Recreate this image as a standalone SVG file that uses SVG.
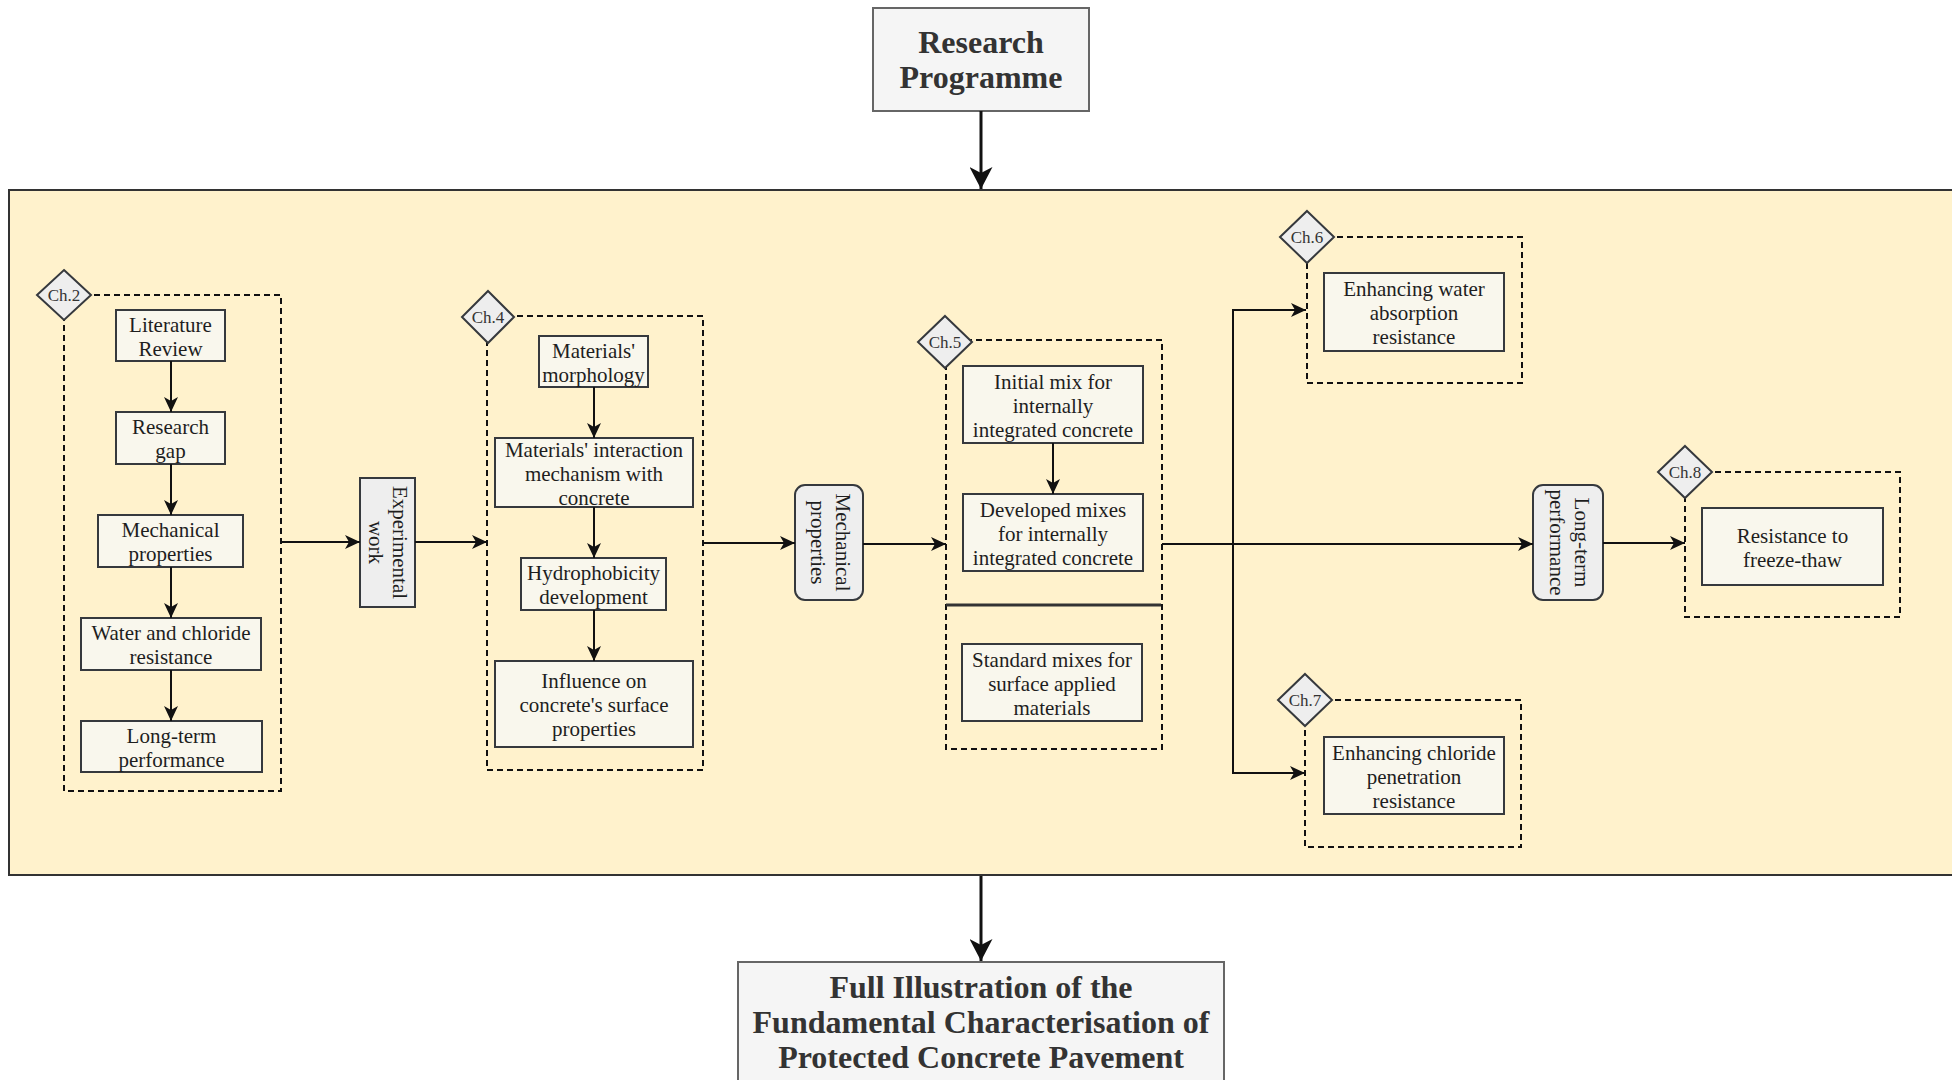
<svg xmlns="http://www.w3.org/2000/svg" width="1952" height="1080" viewBox="0 0 1952 1080">
<defs>
<style>
text{font-family:"Liberation Serif","Times New Roman",serif;fill:#1e1e1e;text-anchor:middle}
.t{font-size:21px}
.big{font-size:32px;font-weight:bold;fill:#333}
.ch{font-size:17px;fill:#333}
.box{fill:#f9f7ed;stroke:#36393d;stroke-width:2}
.rot{fill:#eeeeee;stroke:#36393d;stroke-width:2}
.dia{fill:#eeeeee;stroke:#36393d;stroke-width:2}
.dash{fill:none;stroke:#111;stroke-width:2;stroke-dasharray:6 4}
.main{fill:#f5f5f5;stroke:#666;stroke-width:2}
.c{fill:none;stroke:#111;stroke-width:2}
.ca{fill:none;stroke:#111;stroke-width:2;marker-end:url(#ah)}
.cb{fill:none;stroke:#111;stroke-width:3;marker-end:url(#ahb)}
</style>
<marker id="ah" markerUnits="userSpaceOnUse" markerWidth="16" markerHeight="14" refX="15" refY="7" orient="auto">
<path d="M0,0 L15,7 L0,14 L4,7 Z" fill="#111"/>
</marker>
<marker id="ahb" markerUnits="userSpaceOnUse" markerWidth="23" markerHeight="23" refX="22" refY="11.5" orient="auto">
<path d="M0,0 L22,11.5 L0,23 L6,11.5 Z" fill="#111"/>
</marker>
</defs>
<rect width="1952" height="1080" fill="#ffffff"/>

<g id="research-programme">
<rect class="main" x="873" y="8" width="216" height="103"/>
<text class="big" x="981" y="53">Research</text>
<text class="big" x="981" y="88">Programme</text>
</g>

<g id="programme-container">
<rect x="9" y="190" width="1960" height="685" fill="#fff2cc" stroke="#333" stroke-width="2"/>
</g>

<g id="outcome">
<rect class="main" x="738" y="962" width="486" height="150"/>
<text class="big" x="981" y="998">Full Illustration of the</text>
<text class="big" x="981" y="1033">Fundamental Characterisation of</text>
<text class="big" x="981" y="1068">Protected Concrete Pavement</text>
</g>

<g id="ch2">
<rect class="dash" x="64" y="295" width="217" height="496"/>
<polygon class="dia" points="64,270 91,295 64,320 37,295"/>
<text class="ch" x="64" y="301">Ch.2</text>
</g>
<g id="literature-review">
<rect class="box" x="116" y="310" width="109" height="51"/>
<text class="t" x="170.5" y="332">Literature</text>
<text class="t" x="170.5" y="356">Review</text>
</g>
<g id="research-gap">
<rect class="box" x="116" y="412" width="109" height="52"/>
<text class="t" x="170.5" y="434">Research</text>
<text class="t" x="170.5" y="458">gap</text>
</g>
<g id="mechanical-properties-lit">
<rect class="box" x="98" y="515" width="145" height="52"/>
<text class="t" x="170.5" y="537">Mechanical</text>
<text class="t" x="170.5" y="561">properties</text>
</g>
<g id="water-chloride">
<rect class="box" x="81" y="618" width="180" height="52"/>
<text class="t" x="171" y="640">Water and chloride</text>
<text class="t" x="171" y="664">resistance</text>
</g>
<g id="long-term-lit">
<rect class="box" x="81" y="721" width="181" height="51"/>
<text class="t" x="171.5" y="743">Long-term</text>
<text class="t" x="171.5" y="767">performance</text>
</g>

<g id="experimental-work">
<rect class="rot" x="360" y="478" width="55" height="129"/>
<g transform="rotate(90 387.5 542.5)">
<text class="t" x="387.5" y="537">Experimental</text>
<text class="t" x="387.5" y="561">work</text>
</g>
</g>

<g id="ch4">
<rect class="dash" x="487" y="316" width="216" height="454"/>
<polygon class="dia" points="488,291 514,317 488,343 462,317"/>
<text class="ch" x="488" y="323">Ch.4</text>
</g>
<g id="materials-morphology">
<rect class="box" x="539" y="336" width="109" height="51"/>
<text class="t" x="593.5" y="358">Materials'</text>
<text class="t" x="593.5" y="382">morphology</text>
</g>
<g id="interaction-mechanism">
<rect class="box" x="495" y="438" width="198" height="69"/>
<text class="t" x="594" y="457">Materials' interaction</text>
<text class="t" x="594" y="481">mechanism with</text>
<text class="t" x="594" y="505">concrete</text>
</g>
<g id="hydrophobicity">
<rect class="box" x="521" y="558" width="145" height="52"/>
<text class="t" x="593.5" y="580">Hydrophobicity</text>
<text class="t" x="593.5" y="604">development</text>
</g>
<g id="surface-influence">
<rect class="box" x="495" y="661" width="198" height="86"/>
<text class="t" x="594" y="688">Influence on</text>
<text class="t" x="594" y="712">concrete's surface</text>
<text class="t" x="594" y="736">properties</text>
</g>

<g id="mechanical-properties">
<rect class="rot" x="795" y="485" width="68" height="115" rx="10"/>
<g transform="rotate(90 829 542.5)">
<text class="t" x="829" y="536">Mechanical</text>
<text class="t" x="829" y="561">properties</text>
</g>
</g>

<g id="ch5">
<rect class="dash" x="946" y="340" width="216" height="409"/>
<line x1="946" y1="605" x2="1161" y2="605" stroke="#333" stroke-width="3"/>
<polygon class="dia" points="945,316 972,342 945,368 918,342"/>
<text class="ch" x="945" y="348">Ch.5</text>
</g>
<g id="initial-mix">
<rect class="box" x="963" y="366" width="180" height="77"/>
<text class="t" x="1053" y="389">Initial mix for</text>
<text class="t" x="1053" y="413">internally</text>
<text class="t" x="1053" y="437">integrated concrete</text>
</g>
<g id="developed-mixes">
<rect class="box" x="963" y="494" width="180" height="77"/>
<text class="t" x="1053" y="517">Developed mixes</text>
<text class="t" x="1053" y="541">for internally</text>
<text class="t" x="1053" y="565">integrated concrete</text>
</g>
<g id="standard-mixes">
<rect class="box" x="962" y="644" width="180" height="77"/>
<text class="t" x="1052" y="667">Standard mixes for</text>
<text class="t" x="1052" y="691">surface applied</text>
<text class="t" x="1052" y="715">materials</text>
</g>

<g id="ch6">
<rect class="dash" x="1307" y="237" width="215" height="146"/>
<polygon class="dia" points="1307,211 1334,237 1307,263 1280,237"/>
<text class="ch" x="1307" y="243">Ch.6</text>
</g>
<g id="water-absorption">
<rect class="box" x="1324" y="273" width="180" height="78"/>
<text class="t" x="1414" y="296">Enhancing water</text>
<text class="t" x="1414" y="320">absorption</text>
<text class="t" x="1414" y="344">resistance</text>
</g>

<g id="ch7">
<rect class="dash" x="1305" y="700" width="216" height="147"/>
<polygon class="dia" points="1305,674 1332,700 1305,726 1278,700"/>
<text class="ch" x="1305" y="706">Ch.7</text>
</g>
<g id="chloride-penetration">
<rect class="box" x="1324" y="737" width="180" height="77"/>
<text class="t" x="1414" y="760">Enhancing chloride</text>
<text class="t" x="1414" y="784">penetration</text>
<text class="t" x="1414" y="808">resistance</text>
</g>

<g id="long-term-performance">
<rect class="rot" x="1533" y="485" width="70" height="115" rx="10"/>
<g transform="rotate(90 1568 542.5)">
<text class="t" x="1568" y="536">Long-term</text>
<text class="t" x="1568" y="561">performance</text>
</g>
</g>

<g id="ch8">
<rect class="dash" x="1685" y="472" width="215" height="145"/>
<polygon class="dia" points="1685,446 1712,472 1685,498 1658,472"/>
<text class="ch" x="1685" y="478">Ch.8</text>
</g>
<g id="freeze-thaw">
<rect class="box" x="1702" y="508" width="181" height="77"/>
<text class="t" x="1792.5" y="543">Resistance to</text>
<text class="t" x="1792.5" y="567">freeze-thaw</text>
</g>

<g id="connectors">
<line class="cb" x1="981" y1="111" x2="981" y2="189"/>
<line class="cb" x1="981" y1="876" x2="981" y2="961"/>
<line class="ca" x1="171" y1="361" x2="171" y2="412"/>
<line class="ca" x1="171" y1="464" x2="171" y2="515"/>
<line class="ca" x1="171" y1="567" x2="171" y2="618"/>
<line class="ca" x1="171" y1="670" x2="171" y2="721"/>
<line class="ca" x1="281" y1="542" x2="360" y2="542"/>
<line class="ca" x1="415" y1="542" x2="487" y2="542"/>
<line class="ca" x1="594" y1="387" x2="594" y2="438"/>
<line class="ca" x1="594" y1="507" x2="594" y2="558"/>
<line class="ca" x1="594" y1="610" x2="594" y2="661"/>
<line class="ca" x1="703" y1="543" x2="795" y2="543"/>
<line class="ca" x1="863" y1="544" x2="946" y2="544"/>
<line class="ca" x1="1053" y1="443" x2="1053" y2="494"/>
<line class="ca" x1="1162" y1="544" x2="1533" y2="544"/>
<path class="ca" d="M1162,544 H1233 V310 H1306"/>
<path class="ca" d="M1162,544 H1233 V773 H1305"/>
<line class="ca" x1="1603" y1="543" x2="1685" y2="543"/>
</g>
</svg>
